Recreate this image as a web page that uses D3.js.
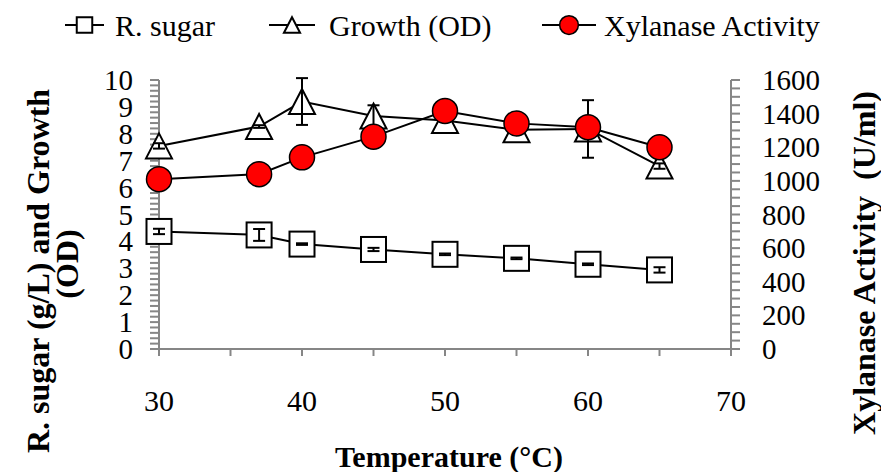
<!DOCTYPE html>
<html>
<head>
<meta charset="utf-8">
<script src="https://cdn.jsdelivr.net/npm/d3@7"></script>
</head>
<body style="margin:0">
<script>
// temperatures (°C)
var temps = [30, 37, 40, 45, 50, 55, 60, 65];
// reducing sugar (g/L), left axis
var sugar = [4.37, 4.24, 3.9, 3.7, 3.52, 3.37, 3.15, 2.94];
var sugarErr = [0.1, 0.22, 0.03, 0.06, 0.03, 0.03, 0.03, 0.1];
// growth (OD), left axis
var growth = [7.55, 8.27, 9.2, 8.66, 8.49, 8.15, 8.18, 6.8];
var growthErr = [0.1, 0.05, 0.87, 0.4, 0.05, 0.05, 1.07, 0.1];
// xylanase activity (U/ml), right axis
var xylanase = [1010, 1040, 1140, 1263, 1416, 1342, 1319, 1200];

var xTicks = [30, 40, 50, 60, 70];
var leftTicks = d3.range(0, 11, 1);
var rightTicks = d3.range(0, 1601, 200);

var width = 881, height = 472;
var svg = d3.select('body').append('svg').attr('width', width).attr('height', height);

var x = d3.scaleLinear().domain([30, 70]).range([159, 731]);
var yL = d3.scaleLinear().domain([0, 10]).range([349, 80]);
var yR = d3.scaleLinear().domain([0, 1600]).range([349, 80]);

var axisColor = '#868686';

// x axis
var gx = svg.append('g').attr('transform', 'translate(0,349)');
gx.append('line').attr('x1', x(30)).attr('x2', x(70)).attr('stroke', axisColor).attr('stroke-width', 2);
gx.selectAll('.tk').data(d3.range(30, 71, 5)).enter().append('line')
	.attr('x1', function (d) { return x(d); }).attr('x2', function (d) { return x(d); })
	.attr('y1', 0).attr('y2', 7).attr('stroke', axisColor).attr('stroke-width', 2);
gx.selectAll('.lb').data(xTicks).enter().append('text')
	.attr('x', function (d) { return x(d); }).attr('y', 62)
	.attr('text-anchor', 'middle').attr('font-size', 30).text(function (d) { return d; });

// left axis
var gl = svg.append('g');
gl.append('line').attr('x1', 159).attr('x2', 159).attr('y1', yL(0)).attr('y2', yL(10)).attr('stroke', axisColor).attr('stroke-width', 2);
gl.selectAll('.tk').data(d3.range(0, 10.01, 0.2)).enter().append('line')
	.attr('x1', 150).attr('x2', 159)
	.attr('y1', function (d) { return yL(d); }).attr('y2', function (d) { return yL(d); })
	.attr('stroke', axisColor).attr('stroke-width', 2);
gl.selectAll('.lb').data(leftTicks).enter().append('text')
	.attr('x', 133).attr('y', function (d) { return yL(d) + 10; })
	.attr('text-anchor', 'end').attr('font-size', 29).text(function (d) { return d; });

// right axis
var gr = svg.append('g');
gr.append('line').attr('x1', 731).attr('x2', 731).attr('y1', yR(0)).attr('y2', yR(1600)).attr('stroke', axisColor).attr('stroke-width', 2);
gr.selectAll('.tk').data(d3.range(0, 1601, 50)).enter().append('line')
	.attr('x1', 731).attr('x2', 740)
	.attr('y1', function (d) { return yR(d); }).attr('y2', function (d) { return yR(d); })
	.attr('stroke', axisColor).attr('stroke-width', 2);
gr.selectAll('.lb').data(rightTicks).enter().append('text')
	.attr('x', 762).attr('y', function (d) { return yR(d) + 10; })
	.attr('text-anchor', 'start').attr('font-size', 29).text(function (d) { return d; });

// axis titles
svg.append('text').attr('x', 449).attr('y', 467).attr('text-anchor', 'middle')
	.attr('font-size', 30).attr('font-weight', 'bold').text('Temperature (°C)');
svg.append('text').attr('transform', 'translate(49,271) rotate(-90)').attr('text-anchor', 'middle')
	.attr('font-size', 32).attr('font-weight', 'bold').text('R. sugar (g/L) and Growth');
svg.append('text').attr('transform', 'translate(78,264) rotate(-90)').attr('text-anchor', 'middle')
	.attr('font-size', 32).attr('font-weight', 'bold').text('(OD)');
svg.append('text').attr('transform', 'translate(875,263) rotate(-90)').attr('text-anchor', 'middle')
	.attr('font-size', 32).attr('font-weight', 'bold').attr('xml:space', 'preserve').text('Xylanase Activity  (U/ml)');

function series(vals, errs, y, marker) {
	var pts = temps.map(function (t, i) { return { t: t, v: vals[i], e: errs ? errs[i] : 0 }; });
	var g = svg.append('g');
	g.append('path').datum(pts)
		.attr('d', d3.line().x(function (d) { return x(d.t); }).y(function (d) { return y(d.v); }))
		.attr('fill', 'none').attr('stroke', '#000').attr('stroke-width', 2);
	var m = g.selectAll('.m').data(pts).enter().append('g')
		.attr('transform', function (d) { return 'translate(' + x(d.t) + ',' + y(d.v) + ')'; });
	marker(m, 1);
	if (errs) {
		var eb = g.selectAll('.e').data(pts).enter().append('g').attr('stroke', '#000').attr('stroke-width', 2);
		eb.append('line').attr('x1', function (d) { return x(d.t); }).attr('x2', function (d) { return x(d.t); })
			.attr('y1', function (d) { return y(d.v - d.e); }).attr('y2', function (d) { return y(d.v + d.e); });
		[-1, 1].forEach(function (s) {
			eb.append('line').attr('x1', function (d) { return x(d.t) - 6; }).attr('x2', function (d) { return x(d.t) + 6; })
				.attr('y1', function (d) { return y(d.v + s * d.e); }).attr('y2', function (d) { return y(d.v + s * d.e); });
		});
	}
}

function square(sel, k) {
	var s = 25 * k;
	sel.append('rect').attr('x', -s / 2).attr('y', -s / 2).attr('width', s).attr('height', s)
		.attr('fill', '#fff').attr('stroke', '#000').attr('stroke-width', 2);
}
function triangle(sel, k) {
	var w = 26 * k, h = 25 * k;
	sel.append('path').attr('d', 'M0,' + (-h / 2) + 'L' + (w / 2) + ',' + (h / 2) + 'L' + (-w / 2) + ',' + (h / 2) + 'Z')
		.attr('fill', '#fff').attr('stroke', '#000').attr('stroke-width', 2);
}
function circle(sel, k) {
	sel.append('circle').attr('r', 12.5 * k).attr('fill', '#ff0000').attr('stroke', '#000').attr('stroke-width', 1.5);
}

series(sugar, sugarErr, yL, square);
series(growth, growthErr, yL, triangle);
series(xylanase, null, yR, circle);

// legend
var legend = [
	{ name: 'R. sugar', x1: 65, x2: 104, tx: 115, marker: square, k: 0.62 },
	{ name: 'Growth (OD)', x1: 269, x2: 315, tx: 329, marker: triangle, k: 0.62 },
	{ name: 'Xylanase Activity', x1: 542, x2: 596, tx: 604, marker: circle, k: 0.75 }
];
var lg = svg.selectAll('.lg').data(legend).enter().append('g');
lg.append('line').attr('x1', function (d) { return d.x1; }).attr('x2', function (d) { return d.x2; })
	.attr('y1', 25).attr('y2', 25).attr('stroke', '#000').attr('stroke-width', 2);
lg.each(function (d) {
	var m = d3.select(this).append('g').attr('transform', 'translate(' + (d.x1 + d.x2) / 2 + ',25)');
	d.marker(m, d.k);
});
lg.append('text').attr('x', function (d) { return d.tx; }).attr('y', 36).attr('font-size', 30)
	.text(function (d) { return d.name; });

// every text in the serif face
svg.selectAll('text').attr('font-family', 'Liberation Serif').style('font-family', '"Liberation Serif"');
</script>
</body>
</html>
